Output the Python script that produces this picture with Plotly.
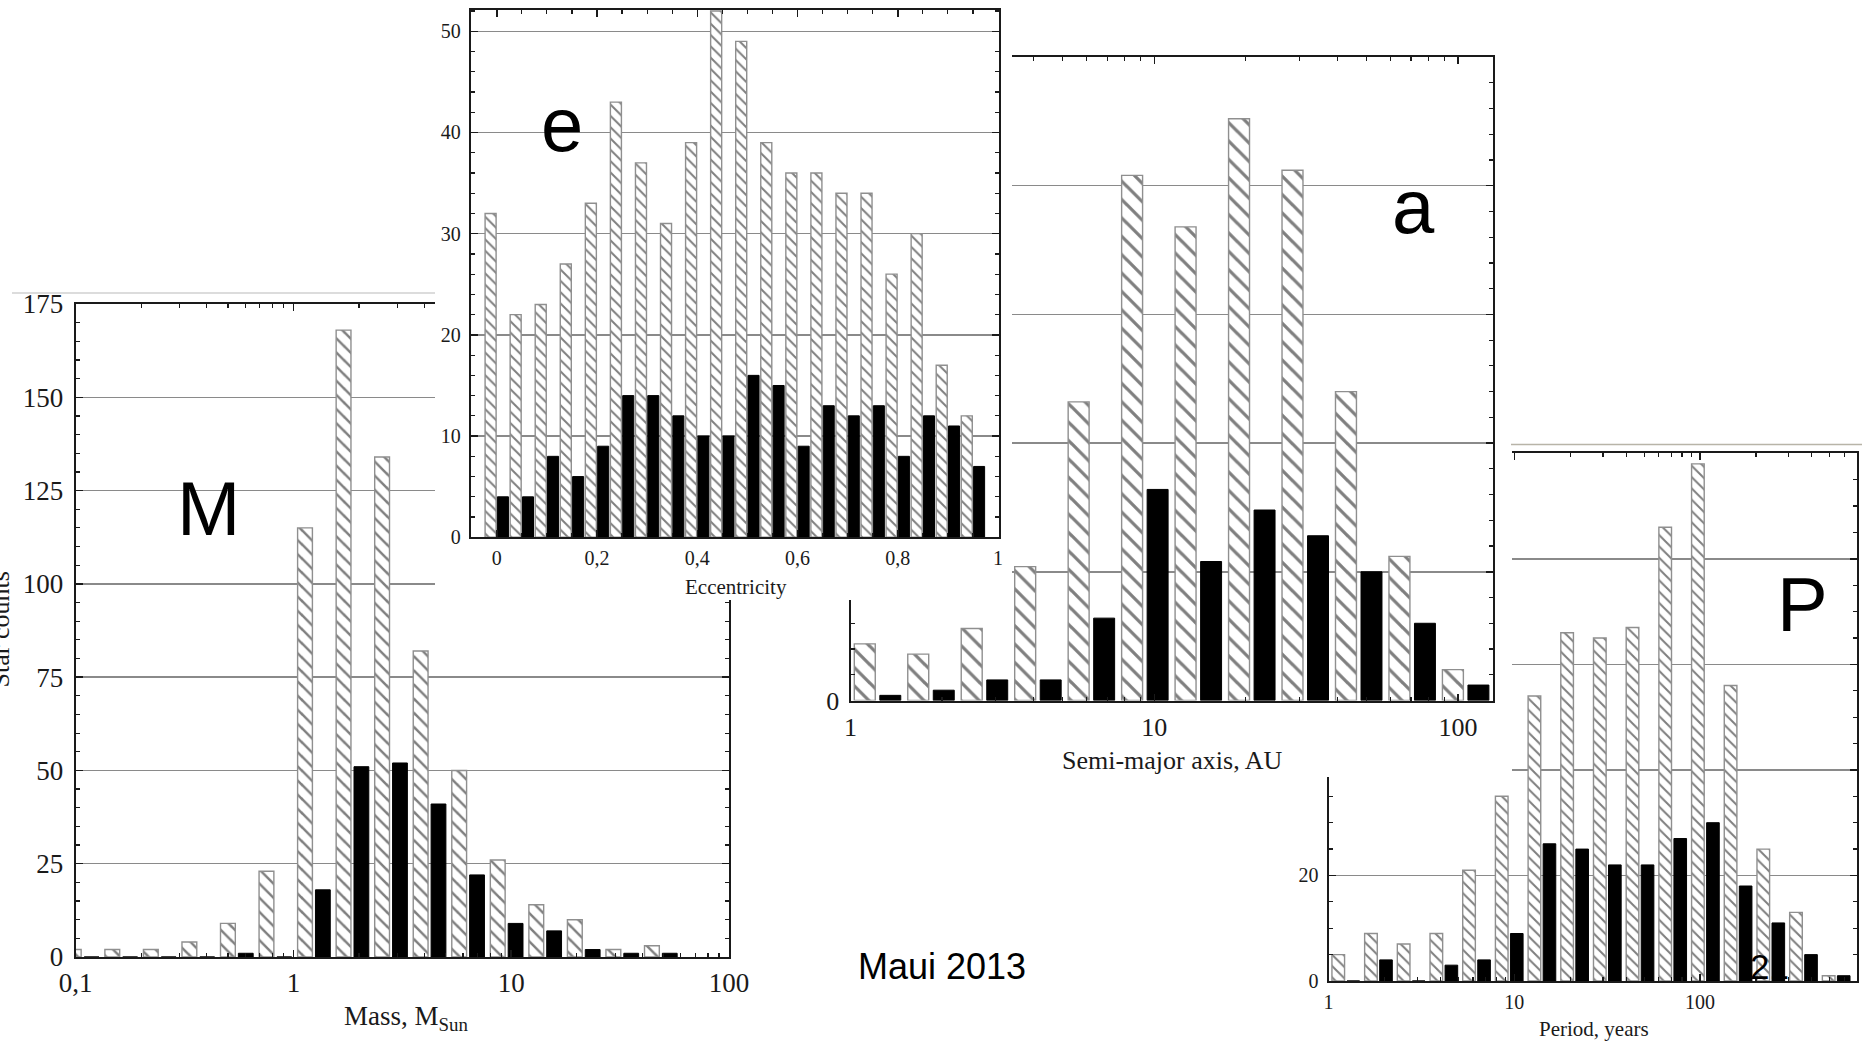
import numpy as np
import plotly.graph_objects as go

W, H = 1862, 1041

# ---------------- data ----------------
# Mass: bin centres given as log10(M / M_Sun)
mass_bins_log = [-0.968, -0.791, -0.614, -0.437, -0.260, -0.083, 0.094, 0.271,
                 0.448, 0.625, 0.802, 0.979, 1.156, 1.333, 1.510, 1.687]
mass_all = [2, 2, 2, 4, 9, 23, 115, 168, 134, 82, 50, 26, 14, 10, 2, 3]
mass_sel = [0, 0, 0, 0, 1, 0, 18, 51, 52, 41, 22, 9, 7, 2, 1, 1]

# Eccentricity
ecc_bins = [0.00, 0.05, 0.10, 0.15, 0.20, 0.25, 0.30, 0.35, 0.40, 0.45,
            0.50, 0.55, 0.60, 0.65, 0.70, 0.75, 0.80, 0.85, 0.90, 0.95]
ecc_all = [32, 22, 23, 27, 33, 43, 37, 31, 39, 52, 49, 39, 36, 36, 34, 34, 26, 30, 17, 12]
ecc_sel = [4, 4, 8, 6, 9, 14, 14, 12, 10, 10, 16, 15, 9, 13, 12, 13, 8, 12, 11, 7]

# Semi-major axis: bin centres as log10(a / AU)
sma_bins_log = [0.089, 0.265, 0.441, 0.617, 0.793, 0.969, 1.145, 1.321,
                1.497, 1.673, 1.849, 2.025]
sma_all = [11, 9, 14, 26, 58, 102, 92, 113, 103, 60, 28, 6]
sma_sel = [1, 2, 4, 4, 16, 41, 27, 37, 32, 25, 15, 3]

# Period: bin centres as log10(P / yr)
per_bins_log = [0.093, 0.269, 0.445, 0.621, 0.797, 0.973, 1.149, 1.325,
                1.501, 1.677, 1.853, 2.029, 2.205, 2.381, 2.557, 2.733]
per_all = [5, 9, 7, 9, 21, 35, 54, 66, 65, 67, 86, 98, 56, 25, 13, 1]
per_sel = [0, 4, 0, 3, 4, 9, 26, 25, 22, 22, 27, 30, 18, 11, 5, 1]

log_ticks = [-1, 0, 1, 2]
log_labels = ["0,1", "1", "10", "100"]

# ---------------- helpers ----------------
SERIF = "Liberation Serif"
SANS = "Liberation Sans"
INK = "#1a1a1a"
GRID = "#8a8a8a"


def dom_x(x0, x1):
    return [x0 / W, x1 / W]


def dom_y(top, bot):
    return [1 - bot / H, 1 - top / H]


def log_minor(lo, hi):
    vals = []
    for n in range(lo, hi + 1):
        for k in range(2, 10):
            vals.append(float(np.log10(k * 10.0 ** n)))
    return vals


def base_axis(fs):
    return dict(showline=True, linecolor=INK, linewidth=2, mirror="allticks",
                ticks="inside", ticklen=7, tickwidth=1.5, tickcolor=INK,
                zeroline=False, fixedrange=True,
                tickfont=dict(family=SERIF, size=fs, color=INK))


def cover_axis(dom, anchor):
    return dict(domain=dom, range=[0, 1], showline=False, showgrid=False,
                zeroline=False, showticklabels=False, ticks="", fixedrange=True,
                anchor=anchor)


fig = go.Figure()


def add_pair(xs, all_vals, sel_vals, w, d, hatch, xa, ya):
    fig.add_trace(go.Bar(
        x=xs, y=all_vals, width=w, offset=-d - w / 2, xaxis=xa, yaxis=ya,
        marker=dict(color="white", line=dict(color="#8f8f8f", width=1.4),
                    pattern=dict(shape="\\", fgcolor="black", bgcolor="white",
                                 size=hatch, solidity=0.25, fillmode="overlay")),
        hoverinfo="skip", showlegend=False))
    fig.add_trace(go.Bar(
        x=xs, y=sel_vals, width=w, offset=d - w / 2, xaxis=xa, yaxis=ya,
        marker=dict(color="black", line=dict(color="black", width=1)),
        hoverinfo="skip", showlegend=False))


def add_blank(xa, ya):
    fig.add_trace(go.Scatter(x=[0.5], y=[0.5], mode="markers", xaxis=xa, yaxis=ya,
                             marker=dict(opacity=0, size=1), hoverinfo="skip",
                             showlegend=False))


# subplot order = drawing order (later ones hide earlier ones)
add_pair(per_bins_log, per_all, per_sel, 0.068, 0.0405, 8, "x", "y")       # Period
add_blank("x2", "y2")                                                      # cover of a-picture
add_pair(sma_bins_log, sma_all, sma_sel, 0.069, 0.042, 13, "x3", "y3")     # Semi-major axis
add_pair(mass_bins_log, mass_all, mass_sel, 0.068, 0.041, 10, "x4", "y4")  # Mass
add_blank("x5", "y5")                                                      # cover of e-picture
add_pair(ecc_bins, ecc_all, ecc_sel, 0.022, 0.0123, 8, "x6", "y6")         # Eccentricity

layout = dict(width=W, height=H,
              margin=dict(l=0, r=0, t=0, b=0, pad=0, autoexpand=False),
              paper_bgcolor="white", plot_bgcolor="white",
              barmode="overlay", showlegend=False, hovermode=False,
              separators=", ")

minor_y = lambda dt: dict(dtick=dt, ticks="inside", ticklen=4, tickwidth=1.2, tickcolor=INK)
minor_log = lambda lo, hi: dict(tickmode="array", tickvals=log_minor(lo, hi), ticks="inside",
                                ticklen=4, tickwidth=1.2, tickcolor=INK)

# Period
ax = base_axis(20)
ax.update(domain=dom_x(1328.5, 1857), range=[0, 2.845], anchor="y",
          tickmode="array", tickvals=[0, 1, 2], ticktext=["1", "10", "100"],
          showgrid=False, ticklabelstandoff=2, minor=minor_log(0, 2))
layout["xaxis"] = ax
ay = base_axis(20)
ay.update(domain=dom_y(453.3, 981), range=[0, 100], anchor="x", dtick=20,
          showgrid=True, gridcolor=GRID, gridwidth=1.5, ticklabelstandoff=4,
          minor=minor_y(5))
layout["yaxis"] = ay

# cover for a
layout["xaxis2"] = cover_axis(dom_x(830, 1512), "y2")
layout["yaxis2"] = cover_axis(dom_y(45, 777), "x2")

# Semi-major axis
ax = base_axis(26)
ax.update(domain=dom_x(850.5, 1493), range=[0, 2.115], anchor="y3",
          tickmode="array", tickvals=[0, 1, 2], ticktext=["1", "10", "100"],
          showgrid=False, ticklabelstandoff=2, minor=minor_log(0, 2))
layout["xaxis3"] = ax
ay = base_axis(26)
ay.update(domain=dom_y(57, 700.5), range=[0, 125], anchor="x3", dtick=25,
          showgrid=True, gridcolor=GRID, gridwidth=1.5, ticklabelstandoff=4,
          minor=minor_y(5))
layout["yaxis3"] = ay

# Mass
ax = base_axis(27)
ax.update(domain=dom_x(75.7, 729), range=[-1, 2], anchor="y4",
          tickmode="array", tickvals=log_ticks, ticktext=log_labels,
          showgrid=False, ticklabelstandoff=1, minor=minor_log(-1, 1))
layout["xaxis4"] = ax
ay = base_axis(27)
ay.update(domain=dom_y(304, 957), range=[0, 175], anchor="x4", dtick=25,
          showgrid=True, gridcolor=GRID, gridwidth=1.5, ticklabelstandoff=5,
          minor=minor_y(5))
layout["yaxis4"] = ay

# cover for e
layout["xaxis5"] = cover_axis(dom_x(435, 1012), "y5")
layout["yaxis5"] = cover_axis(dom_y(0, 600), "x5")

# Eccentricity
ax = base_axis(20)
ax.update(domain=dom_x(470.7, 999), range=[-0.052, 1.002], anchor="y6",
          dtick=0.2, tick0=0, showgrid=False, ticklabelstandoff=2,
          minor=dict(dtick=0.05, tick0=0, ticks="inside", ticklen=4, tickwidth=1.2,
                     tickcolor=INK))
layout["xaxis6"] = ax
ay = base_axis(20)
ay.update(domain=dom_y(10, 537.3), range=[0, 52.1], anchor="x6", dtick=10,
          showgrid=True, gridcolor=GRID, gridwidth=1.5, ticklabelstandoff=4,
          minor=minor_y(2))
layout["yaxis6"] = ay

fig.update_layout(**layout)


def px_ann(text, x, y, size, family=SERIF, color=INK, xanchor="center", **kw):
    fig.add_annotation(text=text, x=x / W, y=1 - y / H, xref="paper", yref="paper",
                       xanchor=xanchor, yanchor="middle", showarrow=False,
                       font=dict(family=family, size=size, color=color), **kw)


# axis titles
px_ann("Mass, M<sub>Sun</sub>", 406, 1018, 27)
px_ann("Eccentricity", 735.5, 587, 21)
px_ann("Semi-major axis, AU", 1172, 760, 26)
px_ann("Period, years", 1594, 1029, 21)
px_ann("Star counts", 16, 630, 26, textangle=-90, xanchor="right")

# panel letters and slide text
for txt, xx, yy in [("M", 208, 508), ("e", 562, 124), ("a", 1413, 206), ("P", 1802, 604)]:
    px_ann(txt, xx, yy, 76, family=SANS, color="black")
px_ann("Maui 2013", 942, 966, 36, family=SANS, color="black")
px_ann("21", 1769, 966, 35, family=SANS, color="black")

# thin picture edges
fig.add_shape(type="line", xref="paper", yref="paper", x0=12 / W, x1=435 / W,
              y0=1 - 293 / H, y1=1 - 293 / H, line=dict(color="#d0d0d0", width=1.5))
fig.add_shape(type="line", xref="paper", yref="paper", x0=1511 / W, x1=1.0,
              y0=1 - 444.5 / H, y1=1 - 444.5 / H, line=dict(color="#b8b4a8", width=1.5))

fig.write_html("out.html",
               config={"displayModeBar": False, "staticPlot": True},
               post_script="document.documentElement.style.margin='0';"
                           "document.body.style.margin='0';")
